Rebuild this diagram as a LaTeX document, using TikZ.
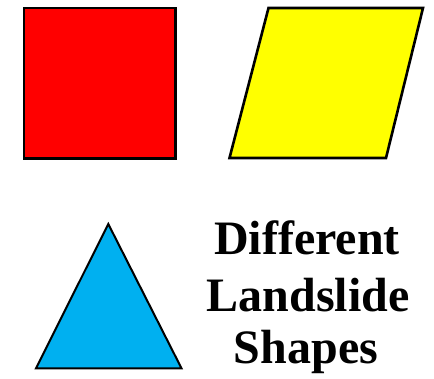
\documentclass[tikz,border=0pt]{standalone}
\usepackage{fontspec}
\setmainfont{Liberation Serif}
\definecolor{skyb}{HTML}{00B0F0}
\definecolor{yel}{HTML}{FFFF00}
\definecolor{rd}{HTML}{FF0000}
\begin{document}
\begin{tikzpicture}[x=1pt,y=-1pt,
  shapeline/.style={draw=black,line width=2.6pt,line join=miter},
  title/.style={font=\fontsize{48}{57}\selectfont\bfseries,align=center,inner sep=0pt}]
\useasboundingbox (0,0) rectangle (434,378);
\filldraw[shapeline,fill=rd] (24,8) rectangle (175.5,158.5);
\filldraw[shapeline,fill=yel] (268.5,8) -- (423,8) -- (386,158) -- (229.5,158) -- cycle;
\filldraw[shapeline,line width=2pt,fill=skyb] (108.3,224) -- (181.5,368.3) -- (36,368.3) -- cycle;
\node[title,anchor=base] (t1) at (307,254) {Different};
\node[title,anchor=base] (t2) at (308,311) {Landslide};
\node[title,anchor=base] (t3) at (306,363) {Shapes};
\end{tikzpicture}
\end{document}
